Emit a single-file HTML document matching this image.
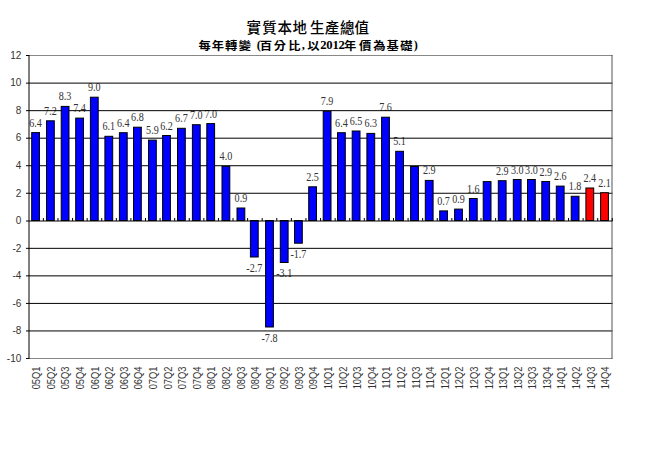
<!DOCTYPE html>
<html><head><meta charset="utf-8"><style>
html,body{margin:0;padding:0;background:#fff;}
body{width:664px;height:450px;overflow:hidden;position:relative;}
svg{position:absolute;left:0;top:0;}
.yl text{font-family:"Liberation Sans",sans-serif;font-size:10px;fill:#333;text-anchor:end;}
.xl text{font-family:"Liberation Sans",sans-serif;font-size:10px;fill:#333;text-anchor:end;}
.vl text{font-family:"Liberation Serif",serif;font-size:12.2px;fill:#333;text-anchor:middle;}
.t1{font-family:"Liberation Sans","Noto Sans CJK TC",sans-serif;font-weight:500;font-size:14.5px;fill:#000;}
.t2{font-family:"Liberation Serif","Noto Sans CJK TC",sans-serif;font-weight:700;font-size:12.3px;fill:#000;}
.t3{font-size:12.7px;}
</style></head><body>
<svg width="664" height="450" viewBox="0 0 664 450">
<rect x="0" y="0" width="664" height="450" fill="#fff"/>
<text class="t1" x="246.5 262.2 277.4 292.6 310.0 324.7 339.9 354.6" y="33.3">實質本地生產總值</text>
<text class="t2" transform="translate(0,49.8) scale(1,0.93)" x="198.5 211.8 225.0 238.7 251.0 256.8 259.8 273.7 288.2 301.8 305.0 307.3 320.2 326.3 332.4 338.5 344.1 358.9 373.3 386.5 400.2 413.8" y="0.00 0.00 0.00 0.00 0.00 -0.43 0.00 0.00 0.00 -0.43 0.00 0.00 -0.54 -0.54 -0.54 -0.54 0.00 0.00 0.00 0.00 0.00 -0.43">每年轉變 (百分比, 以<tspan class="t3">2012</tspan>年價為基礎)</text>
<g class="vl">
<text transform="translate(35.60,126.60) scale(0.83,1)">6.4</text>
<text transform="translate(50.40,114.80) scale(0.83,1)">7.2</text>
<text transform="translate(65.10,100.40) scale(0.83,1)">8.3</text>
<text transform="translate(79.60,112.10) scale(0.83,1)">7.4</text>
<text transform="translate(94.30,91.20) scale(0.83,1)">9.0</text>
<text transform="translate(108.80,130.30) scale(0.83,1)">6.1</text>
<text transform="translate(123.30,126.70) scale(0.83,1)">6.4</text>
<text transform="translate(137.40,121.20) scale(0.83,1)">6.8</text>
<text transform="translate(152.40,134.10) scale(0.83,1)">5.9</text>
<text transform="translate(166.50,129.50) scale(0.83,1)">6.2</text>
<text transform="translate(181.40,122.30) scale(0.83,1)">6.7</text>
<text transform="translate(196.30,118.70) scale(0.83,1)">7.0</text>
<text transform="translate(210.70,117.60) scale(0.83,1)">7.0</text>
<text transform="translate(225.90,160.30) scale(0.83,1)">4.0</text>
<text transform="translate(240.90,202.00) scale(0.83,1)">0.9</text>
<text transform="translate(254.30,271.50) scale(0.83,1)">-2.7</text>
<text transform="translate(269.50,341.50) scale(0.83,1)">-7.8</text>
<text transform="translate(284.20,277.00) scale(0.83,1)">-3.1</text>
<text transform="translate(298.40,257.70) scale(0.83,1)">-1.7</text>
<text transform="translate(312.60,180.80) scale(0.83,1)">2.5</text>
<text transform="translate(327.10,105.20) scale(0.83,1)">7.9</text>
<text transform="translate(341.40,126.70) scale(0.83,1)">6.4</text>
<text transform="translate(356.10,125.00) scale(0.83,1)">6.5</text>
<text transform="translate(370.80,127.40) scale(0.83,1)">6.3</text>
<text transform="translate(385.50,111.20) scale(0.83,1)">7.6</text>
<text transform="translate(399.60,145.30) scale(0.83,1)">5.1</text>
<text transform="translate(429.20,174.40) scale(0.83,1)">2.9</text>
<text transform="translate(443.60,204.90) scale(0.83,1)">0.7</text>
<text transform="translate(458.50,203.10) scale(0.83,1)">0.9</text>
<text transform="translate(473.30,192.50) scale(0.83,1)">1.6</text>
<text transform="translate(502.20,174.70) scale(0.83,1)">2.9</text>
<text transform="translate(517.20,173.50) scale(0.83,1)">3.0</text>
<text transform="translate(531.40,173.50) scale(0.83,1)">3.0</text>
<text transform="translate(545.70,175.50) scale(0.83,1)">2.9</text>
<text transform="translate(560.20,180.10) scale(0.83,1)">2.6</text>
<text transform="translate(575.10,190.30) scale(0.83,1)">1.8</text>
<text transform="translate(589.80,182.00) scale(0.83,1)">2.4</text>
<text transform="translate(604.50,186.70) scale(0.83,1)">2.1</text>
</g>
<g stroke="#000" stroke-width="1">
<line x1="29" y1="330.94" x2="612.5" y2="330.94"/>
<line x1="29" y1="303.41" x2="612.5" y2="303.41"/>
<line x1="29" y1="275.87" x2="612.5" y2="275.87"/>
<line x1="29" y1="248.34" x2="612.5" y2="248.34"/>
<line x1="29" y1="193.26" x2="612.5" y2="193.26"/>
<line x1="29" y1="165.73" x2="612.5" y2="165.73"/>
<line x1="29" y1="138.19" x2="612.5" y2="138.19"/>
<line x1="29" y1="110.66" x2="612.5" y2="110.66"/>
<line x1="29" y1="83.12" x2="612.5" y2="83.12"/>
</g>
<path d="M29 55.5 H612.5 M29 358.5 H612.5" fill="none" stroke="#888" stroke-width="1"/>
<line x1="612" y1="55" x2="612" y2="359" stroke="#555" stroke-width="1"/>
<g stroke="#000" stroke-width="1">
<rect x="31.70" y="132.60" width="7.80" height="87.90" fill="#0000ff"/>
<rect x="46.50" y="120.80" width="7.80" height="99.70" fill="#0000ff"/>
<rect x="61.20" y="106.40" width="7.80" height="114.10" fill="#0000ff"/>
<rect x="75.70" y="118.10" width="7.80" height="102.40" fill="#0000ff"/>
<rect x="90.40" y="97.20" width="7.80" height="123.30" fill="#0000ff"/>
<rect x="104.90" y="136.30" width="7.80" height="84.20" fill="#0000ff"/>
<rect x="119.40" y="132.70" width="7.80" height="87.80" fill="#0000ff"/>
<rect x="133.50" y="127.20" width="7.80" height="93.30" fill="#0000ff"/>
<rect x="148.50" y="140.10" width="7.80" height="80.40" fill="#0000ff"/>
<rect x="162.60" y="135.50" width="7.80" height="85.00" fill="#0000ff"/>
<rect x="177.50" y="128.30" width="7.80" height="92.20" fill="#0000ff"/>
<rect x="192.40" y="124.70" width="7.80" height="95.80" fill="#0000ff"/>
<rect x="206.80" y="123.60" width="7.80" height="96.90" fill="#0000ff"/>
<rect x="222.00" y="166.30" width="7.80" height="54.20" fill="#0000ff"/>
<rect x="237.00" y="208.00" width="7.80" height="12.50" fill="#0000ff"/>
<rect x="250.40" y="220.50" width="7.80" height="36.50" fill="#0000ff"/>
<rect x="265.60" y="220.50" width="7.80" height="106.50" fill="#0000ff"/>
<rect x="280.30" y="220.50" width="7.80" height="42.00" fill="#0000ff"/>
<rect x="294.50" y="220.50" width="7.80" height="22.70" fill="#0000ff"/>
<rect x="308.70" y="186.80" width="7.80" height="33.70" fill="#0000ff"/>
<rect x="323.20" y="111.20" width="7.80" height="109.30" fill="#0000ff"/>
<rect x="337.50" y="132.70" width="7.80" height="87.80" fill="#0000ff"/>
<rect x="352.20" y="131.00" width="7.80" height="89.50" fill="#0000ff"/>
<rect x="366.90" y="133.40" width="7.80" height="87.10" fill="#0000ff"/>
<rect x="381.60" y="117.20" width="7.80" height="103.30" fill="#0000ff"/>
<rect x="395.70" y="151.30" width="7.80" height="69.20" fill="#0000ff"/>
<rect x="410.60" y="166.50" width="7.80" height="54.00" fill="#0000ff"/>
<rect x="425.30" y="180.40" width="7.80" height="40.10" fill="#0000ff"/>
<rect x="439.70" y="210.90" width="7.80" height="9.60" fill="#0000ff"/>
<rect x="454.60" y="209.10" width="7.80" height="11.40" fill="#0000ff"/>
<rect x="469.40" y="198.50" width="7.80" height="22.00" fill="#0000ff"/>
<rect x="483.20" y="181.60" width="7.80" height="38.90" fill="#0000ff"/>
<rect x="498.30" y="180.70" width="7.80" height="39.80" fill="#0000ff"/>
<rect x="513.30" y="179.50" width="7.80" height="41.00" fill="#0000ff"/>
<rect x="527.50" y="179.50" width="7.80" height="41.00" fill="#0000ff"/>
<rect x="541.80" y="181.50" width="7.80" height="39.00" fill="#0000ff"/>
<rect x="556.30" y="186.10" width="7.80" height="34.40" fill="#0000ff"/>
<rect x="571.20" y="196.30" width="7.80" height="24.20" fill="#0000ff"/>
<rect x="585.90" y="188.00" width="7.80" height="32.50" fill="#ff0000"/>
<rect x="600.60" y="192.70" width="7.80" height="27.80" fill="#ff0000"/>
</g>
<line x1="29" y1="221.00" x2="612.5" y2="221.00" stroke="#000" stroke-width="1"/>
<line x1="29" y1="55" x2="29" y2="359" stroke="#000" stroke-width="1"/>
<g stroke="#000" stroke-width="1">
<line x1="26" y1="358.50" x2="29" y2="358.50"/>
<line x1="26" y1="330.94" x2="29" y2="330.94"/>
<line x1="26" y1="303.41" x2="29" y2="303.41"/>
<line x1="26" y1="275.87" x2="29" y2="275.87"/>
<line x1="26" y1="248.34" x2="29" y2="248.34"/>
<line x1="26" y1="221.00" x2="29" y2="221.00"/>
<line x1="26" y1="193.26" x2="29" y2="193.26"/>
<line x1="26" y1="165.73" x2="29" y2="165.73"/>
<line x1="26" y1="138.19" x2="29" y2="138.19"/>
<line x1="26" y1="110.66" x2="29" y2="110.66"/>
<line x1="26" y1="83.12" x2="29" y2="83.12"/>
<line x1="26" y1="55.50" x2="29" y2="55.50"/>
<line x1="43.39" y1="218" x2="43.39" y2="221.00"/>
<line x1="57.98" y1="218" x2="57.98" y2="221.00"/>
<line x1="72.56" y1="218" x2="72.56" y2="221.00"/>
<line x1="87.15" y1="218" x2="87.15" y2="221.00"/>
<line x1="101.74" y1="218" x2="101.74" y2="221.00"/>
<line x1="116.33" y1="218" x2="116.33" y2="221.00"/>
<line x1="130.91" y1="218" x2="130.91" y2="221.00"/>
<line x1="145.50" y1="218" x2="145.50" y2="221.00"/>
<line x1="160.09" y1="218" x2="160.09" y2="221.00"/>
<line x1="174.68" y1="218" x2="174.68" y2="221.00"/>
<line x1="189.26" y1="218" x2="189.26" y2="221.00"/>
<line x1="203.85" y1="218" x2="203.85" y2="221.00"/>
<line x1="218.44" y1="218" x2="218.44" y2="221.00"/>
<line x1="233.03" y1="218" x2="233.03" y2="221.00"/>
<line x1="247.61" y1="218" x2="247.61" y2="221.00"/>
<line x1="262.20" y1="218" x2="262.20" y2="221.00"/>
<line x1="276.79" y1="218" x2="276.79" y2="221.00"/>
<line x1="291.38" y1="218" x2="291.38" y2="221.00"/>
<line x1="305.96" y1="218" x2="305.96" y2="221.00"/>
<line x1="320.55" y1="218" x2="320.55" y2="221.00"/>
<line x1="335.14" y1="218" x2="335.14" y2="221.00"/>
<line x1="349.73" y1="218" x2="349.73" y2="221.00"/>
<line x1="364.31" y1="218" x2="364.31" y2="221.00"/>
<line x1="378.90" y1="218" x2="378.90" y2="221.00"/>
<line x1="393.49" y1="218" x2="393.49" y2="221.00"/>
<line x1="408.08" y1="218" x2="408.08" y2="221.00"/>
<line x1="422.66" y1="218" x2="422.66" y2="221.00"/>
<line x1="437.25" y1="218" x2="437.25" y2="221.00"/>
<line x1="451.84" y1="218" x2="451.84" y2="221.00"/>
<line x1="466.43" y1="218" x2="466.43" y2="221.00"/>
<line x1="481.01" y1="218" x2="481.01" y2="221.00"/>
<line x1="495.60" y1="218" x2="495.60" y2="221.00"/>
<line x1="510.19" y1="218" x2="510.19" y2="221.00"/>
<line x1="524.77" y1="218" x2="524.77" y2="221.00"/>
<line x1="539.36" y1="218" x2="539.36" y2="221.00"/>
<line x1="553.95" y1="218" x2="553.95" y2="221.00"/>
<line x1="568.54" y1="218" x2="568.54" y2="221.00"/>
<line x1="583.12" y1="218" x2="583.12" y2="221.00"/>
<line x1="597.71" y1="218" x2="597.71" y2="221.00"/>
<line x1="612.30" y1="218" x2="612.30" y2="221.00"/>
</g>
<g class="yl">
<text x="21.3" y="361.80">-10</text>
<text x="21.3" y="334.24">-8</text>
<text x="21.3" y="306.71">-6</text>
<text x="21.3" y="279.17">-4</text>
<text x="21.3" y="251.64">-2</text>
<text x="21.3" y="224.30">0</text>
<text x="21.3" y="196.56">2</text>
<text x="21.3" y="169.03">4</text>
<text x="21.3" y="141.49">6</text>
<text x="21.3" y="113.96">8</text>
<text x="21.3" y="86.42">10</text>
<text x="21.3" y="58.80">12</text>
</g>
<g class="xl">
<text transform="translate(40.29,366.6) rotate(-90) scale(0.93,1)">05Q1</text>
<text transform="translate(54.88,366.6) rotate(-90) scale(0.93,1)">05Q2</text>
<text transform="translate(69.47,366.6) rotate(-90) scale(0.93,1)">05Q3</text>
<text transform="translate(84.06,366.6) rotate(-90) scale(0.93,1)">05Q4</text>
<text transform="translate(98.64,366.6) rotate(-90) scale(0.93,1)">06Q1</text>
<text transform="translate(113.23,366.6) rotate(-90) scale(0.93,1)">06Q2</text>
<text transform="translate(127.82,366.6) rotate(-90) scale(0.93,1)">06Q3</text>
<text transform="translate(142.41,366.6) rotate(-90) scale(0.93,1)">06Q4</text>
<text transform="translate(156.99,366.6) rotate(-90) scale(0.93,1)">07Q1</text>
<text transform="translate(171.58,366.6) rotate(-90) scale(0.93,1)">07Q2</text>
<text transform="translate(186.17,366.6) rotate(-90) scale(0.93,1)">07Q3</text>
<text transform="translate(200.76,366.6) rotate(-90) scale(0.93,1)">07Q4</text>
<text transform="translate(215.34,366.6) rotate(-90) scale(0.93,1)">08Q1</text>
<text transform="translate(229.93,366.6) rotate(-90) scale(0.93,1)">08Q2</text>
<text transform="translate(244.52,366.6) rotate(-90) scale(0.93,1)">08Q3</text>
<text transform="translate(259.11,366.6) rotate(-90) scale(0.93,1)">08Q4</text>
<text transform="translate(273.69,366.6) rotate(-90) scale(0.93,1)">09Q1</text>
<text transform="translate(288.28,366.6) rotate(-90) scale(0.93,1)">09Q2</text>
<text transform="translate(302.87,366.6) rotate(-90) scale(0.93,1)">09Q3</text>
<text transform="translate(317.46,366.6) rotate(-90) scale(0.93,1)">09Q4</text>
<text transform="translate(332.04,366.6) rotate(-90) scale(0.93,1)">10Q1</text>
<text transform="translate(346.63,366.6) rotate(-90) scale(0.93,1)">10Q2</text>
<text transform="translate(361.22,366.6) rotate(-90) scale(0.93,1)">10Q3</text>
<text transform="translate(375.81,366.6) rotate(-90) scale(0.93,1)">10Q4</text>
<text transform="translate(390.39,366.6) rotate(-90) scale(0.93,1)">11Q1</text>
<text transform="translate(404.98,366.6) rotate(-90) scale(0.93,1)">11Q2</text>
<text transform="translate(419.57,366.6) rotate(-90) scale(0.93,1)">11Q3</text>
<text transform="translate(434.16,366.6) rotate(-90) scale(0.93,1)">11Q4</text>
<text transform="translate(448.74,366.6) rotate(-90) scale(0.93,1)">12Q1</text>
<text transform="translate(463.33,366.6) rotate(-90) scale(0.93,1)">12Q2</text>
<text transform="translate(477.92,366.6) rotate(-90) scale(0.93,1)">12Q3</text>
<text transform="translate(492.51,366.6) rotate(-90) scale(0.93,1)">12Q4</text>
<text transform="translate(507.09,366.6) rotate(-90) scale(0.93,1)">13Q1</text>
<text transform="translate(521.68,366.6) rotate(-90) scale(0.93,1)">13Q2</text>
<text transform="translate(536.27,366.6) rotate(-90) scale(0.93,1)">13Q3</text>
<text transform="translate(550.86,366.6) rotate(-90) scale(0.93,1)">13Q4</text>
<text transform="translate(565.44,366.6) rotate(-90) scale(0.93,1)">14Q1</text>
<text transform="translate(580.03,366.6) rotate(-90) scale(0.93,1)">14Q2</text>
<text transform="translate(594.62,366.6) rotate(-90) scale(0.93,1)">14Q3</text>
<text transform="translate(609.21,366.6) rotate(-90) scale(0.93,1)">14Q4</text>
</g>
</svg>
</body></html>
